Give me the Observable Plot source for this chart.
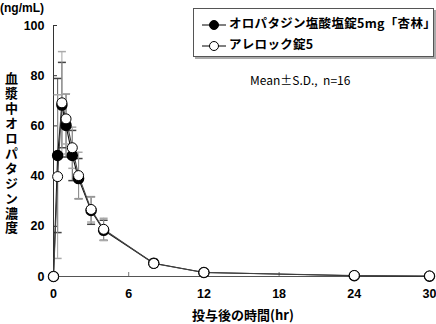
<!DOCTYPE html>
<html><head><meta charset="utf-8">
<script src="https://cdn.jsdelivr.net/npm/d3@7"></script>
<script src="https://cdn.jsdelivr.net/npm/@observablehq/plot@0.6"></script>
<style>
body{margin:0;background:#fff;}
#wrap{position:relative;width:436px;height:324px;font-family:"Noto Sans CJK JP",sans-serif;}
.ov{position:absolute;color:#000;white-space:nowrap;}
</style></head><body>
<div id="wrap"></div>
<script>
const times = [0, 0.33, 0.67, 1, 1.5, 2, 3, 4, 8, 12, 24, 30];
const seriesNames = ["オロパタジン塩酸塩錠5mg「杏林」", "アレロック錠5"];
const testMean = [0, 48.2, 68.3, 60.2, 48.2, 39.0, 26.3, 18.4, 5.3, 1.6, 0.3, 0.1];
const testSD   = [0, 30.7, 17.0, 12.6, 10.0, 8.0, 5.5, 4.0, 1.5, 0.8, 0.2, 0.1];
const refMean  = [0, 39.8, 69.2, 62.8, 51.3, 40.2, 26.7, 18.8, 5.2, 1.6, 0.4, 0.2];
const refSD    = [0, 32.6, 20.4, 10.0, 8.2, 9.3, 5.0, 4.4, 1.3, 0.7, 0.3, 0.1];
const xTicks = [0, 6, 12, 18, 24, 30];
const yTicks = [0, 20, 40, 60, 80, 100];

const rows = (means, sds, s) => times.map((t, i) => ({t, m: means[i], lo: Math.max(0, means[i] - sds[i]), hi: means[i] + sds[i], s}));
const test = rows(testMean, testSD, seriesNames[0]);
const ref = rows(refMean, refSD, seriesNames[1]);

const cap = {draw(ctx, size){ const r = Math.sqrt(size / Math.PI); ctx.moveTo(-r, 0); ctx.lineTo(r, 0); }};
const font = "'Liberation Sans', Arial, sans-serif";

const chart = Plot.plot({
  width: 436, height: 324,
  marginLeft: 53, marginRight: 7, marginTop: 25, marginBottom: 48,
  x: {domain: [0, 30]},
  y: {domain: [0, 100]},
  style: {fontFamily: font, fontSize: "12.5px", fontWeight: "bold", color: "#000", background: "#fff"},
  marks: [
    Plot.axisY({ticks: yTicks, tickSize: -4, tickPadding: 13, label: null, stroke: "#333"}),
    Plot.axisX({ticks: xTicks, tickSize: -4, tickPadding: 17, label: null, stroke: "#777"}),
    Plot.ruleX([0], {stroke: "#333"}),
    Plot.ruleY([0], {stroke: "#555"}),
    // error bars
    Plot.ruleX(test, {x: "t", y1: "lo", y2: "hi", stroke: "#444", strokeWidth: 0.9}),
    Plot.dot(test, {x: "t", y: "hi", symbol: cap, r: 4, stroke: "#444", fill: "none"}),
    Plot.dot(test, {x: "t", y: "lo", symbol: cap, r: 4, stroke: "#444", fill: "none"}),
    Plot.ruleX(ref, {x: "t", y1: "lo", y2: "hi", stroke: "#999", strokeWidth: 0.9}),
    Plot.dot(ref, {x: "t", y: "hi", symbol: cap, r: 4, stroke: "#aaa", fill: "none"}),
    Plot.dot(ref, {x: "t", y: "lo", symbol: cap, r: 4, stroke: "#aaa", fill: "none"}),
    // lines
    Plot.line(test, {x: "t", y: "m", stroke: "#111", strokeWidth: 1.1}),
    Plot.line(ref, {x: "t", y: "m", stroke: "#444", strokeWidth: 1.1}),
    // markers
    Plot.dot(test, {x: "t", y: "m", r: 5, fill: "#000", stroke: "#000"}),
    Plot.dot(ref, {x: "t", y: "m", r: 5, fill: "#fff", stroke: "#000", strokeWidth: 1})
  ]
});
const wrap = document.getElementById("wrap");
chart.style.position = "absolute"; chart.style.left = "0"; chart.style.top = "0";
wrap.appendChild(chart);

function ov(html, css){ const d = document.createElement("div"); d.className = "ov"; d.style.cssText += css; d.innerHTML = html; wrap.appendChild(d); return d; }
ov("(ng/mL)", "left:0px;top:1px;font-size:12px;font-weight:bold;font-family:'Liberation Sans',Arial,sans-serif;");
ov("血漿中オロパタジン濃度", "left:5px;top:72px;font-size:13px;font-weight:bold;writing-mode:vertical-rl;text-orientation:upright;letter-spacing:1.9px;line-height:1;");
ov("投与後の時間(hr)", "left:0;width:486px;text-align:center;top:305px;font-size:13px;font-weight:bold;");
ov("Mean±S.D.,  n=16", "left:250px;top:71px;font-size:12px;font-family:'Noto Sans CJK JP',sans-serif;white-space:pre;");

// legend box
const lg = ov("", "left:193px;top:8px;width:239px;height:47px;border:1px solid #555;background:#fff;box-shadow:2px 2px 0 #aaa;");
const marker = (filled) => `<svg width="24" height="12" style="vertical-align:middle;margin-right:3px"><line x1="0" y1="6" x2="24" y2="6" stroke="#000"/><circle cx="12" cy="6" r="4.5" fill="${filled ? "#000" : "#fff"}" stroke="#000"/></svg>`;
lg.innerHTML = `<div style="position:absolute;left:8px;top:4px;font-size:12.5px;font-weight:bold;letter-spacing:0.3px;">${marker(true)}${seriesNames[0]}</div>
<div style="position:absolute;left:8px;top:25px;font-size:12.5px;font-weight:bold;letter-spacing:0.3px;">${marker(false)}${seriesNames[1]}</div>`;
</script>
</body></html>
